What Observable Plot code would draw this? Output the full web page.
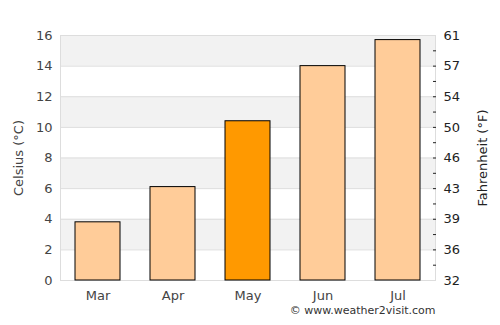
<!DOCTYPE html>
<html>
<head>
<meta charset="utf-8">
<script src="https://cdn.jsdelivr.net/npm/d3@7"></script>
<script src="https://cdn.jsdelivr.net/npm/@observablehq/plot@0.6"></script>
<style>
  html, body { margin: 0; padding: 0; background: #fff; }
  svg { font-family: "DejaVu Sans", sans-serif; }
</style>
</head>
<body>
<div id="chart"></div>
<script>
const months = ["Mar", "Apr", "May", "Jun", "Jul"];
const celsius = [3.8, 6.1, 10.4, 14.0, 15.7];
const highlight = "May";
const majorTicks = [0, 2, 4, 6, 8, 10, 12, 14, 16];
const minorTicks = [1, 2, 3, 4, 5, 6, 7, 8, 9, 10, 11, 12, 13, 14, 15];
const bandLows = [2, 6, 10, 14];
const credit = "© www.weather2visit.com";

const data = months.map((m, i) => ({month: m, c: celsius[i]}));
const bands = bandLows.map(b => ({y1: b, y2: b + 2}));
const toF = c => Math.round(c * 9 / 5 + 32);

const chart = Plot.plot({
  width: 500,
  height: 325,
  marginLeft: 60,
  marginRight: 65,
  marginTop: 35,
  marginBottom: 45,
  style: {fontFamily: "DejaVu Sans, sans-serif", fontSize: "13px", color: "#444", background: "#fff"},
  x: {domain: months, paddingInner: 0.4, paddingOuter: 0.2},
  y: {domain: [0, 16]},
  marks: [
    Plot.rectY(bands, {y1: "y1", y2: "y2", fill: "#f2f2f2"}),
    Plot.ruleY(majorTicks, {stroke: "#dddddd", strokeWidth: 1}),
    Plot.frame({stroke: "#dddddd"}),
    Plot.barY(data, {x: "month", y: "c", fill: d => d.month === highlight ? "#ff9900" : "#ffcc99", stroke: "#000", strokeWidth: 1}),
    Plot.axisX({tickSize: 0, tickPadding: 10, label: null, fontSize: 13, fill: "#444"}),
    Plot.axisY(majorTicks, {anchor: "left", tickSize: 0, tickPadding: 8, label: "Celsius (°C)", labelAnchor: "center", labelArrow: "none", labelOffset: 47, fontSize: 13, fill: "#444"}),
    Plot.axisY(majorTicks, {anchor: "right", tickSize: 0, tickPadding: 8, tickFormat: toF, label: "Fahrenheit (°F)", labelAnchor: "center", labelArrow: "none", labelOffset: 51, fontSize: 13, fill: "#222"}),
    Plot.axisY(minorTicks, {anchor: "right", tickSize: -3, tickFormat: () => "", label: null, stroke: "#222"}),
    Plot.text([credit], {frameAnchor: "bottom-right", text: d => d, textAnchor: "end", dy: 33, fontSize: 11, fill: "#333"})
  ]
});
document.getElementById("chart").appendChild(chart);
</script>
</body>
</html>
